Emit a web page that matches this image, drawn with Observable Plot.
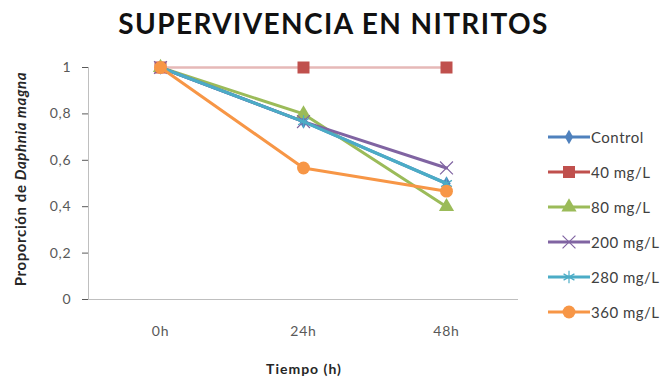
<!DOCTYPE html>
<html><head><meta charset="utf-8">
<script src="https://cdn.jsdelivr.net/npm/d3@7"></script>
<script src="https://cdn.jsdelivr.net/npm/@observablehq/plot@0.6"></script>
<style>
body{margin:0;background:#fff;font-family:Lato,"Open Sans",sans-serif;}
#wrap{position:relative;width:667px;height:381px;overflow:hidden;}
#title{height:44px;line-height:46px;text-align:center;font-weight:bold;font-size:28px;color:#111;letter-spacing:1.4px;}
#ylab{position:absolute;left:20px;top:179px;transform:translate(-50%,-50%) rotate(-90deg);white-space:nowrap;font-size:15px;letter-spacing:0.6px;font-weight:bold;color:#262626;}
#xlab{position:absolute;left:304px;top:368px;transform:translate(-50%,-50%);font-size:14px;letter-spacing:1px;font-weight:bold;color:#262626;}
#legend{position:absolute;left:548px;top:127px;}
.row{height:35px;display:flex;align-items:flex-start;}
.row span{font-size:15px;letter-spacing:0.5px;color:#404040;line-height:20px;margin-left:1px;}
</style></head>
<body><div id="wrap"><div id="title">SUPERVIVENCIA EN NITRITOS</div><div id="chart"></div>
<div id="ylab">Proporción de <i>Daphnia magna</i></div>
<div id="xlab">Tiempo (h)</div>
<div id="legend"></div></div>
<script>
const times = ["0h", "24h", "48h"];
const seriesNames = ["Control", "40 mg/L", "80 mg/L", "200 mg/L", "280 mg/L", "360 mg/L"];
const control = [1, 0.767, 0.5];
const mg40 = [1, 1, 1];
const mg80 = [1, 0.8, 0.4];
const mg200 = [1, 0.767, 0.567];
const mg280 = [1, 0.767, 0.5];
const mg360 = [1, 0.567, 0.467];
const yTicks = [0, 0.2, 0.4, 0.6, 0.8, 1];

const values = [control, mg40, mg80, mg200, mg280, mg360];
const lineColors = ["#4F81BD", "#E6B9B8", "#9BBB59", "#8064A2", "#4BACC6", "#F79646"];
const markColors = ["#4F81BD", "#C0504D", "#9BBB59", "#8064A2", "#4BACC6", "#F79646"];
const symbols = ["diamond", "square", "triangle", "times", "asterisk", "circle"];
const filled = [true, true, true, false, false, true];
const sizes = [60, 144, 100, 110, 110, 130];

const data = [];
seriesNames.forEach((s, i) => times.forEach((t, j) => data.push({series: s, idx: i, time: t, value: values[i][j]})));

const marks = [
  Plot.frame({anchor: "left", stroke: "#bfbfbf"}),
  Plot.ruleY([0], {stroke: "#bfbfbf"}),
  Plot.axisY({ticks: yTicks, tickSize: 6, tickPadding: 11, tickFormat: d => String(d).replace(".", ","), fontSize: 14, color: "#595959", label: null}),
  Plot.axisX({tickSize: 0, tickPadding: 27, fontSize: 14, color: "#595959", label: null})
];
seriesNames.forEach((s, i) => {
  const d = data.filter(r => r.idx === i);
  marks.push(Plot.line(d, {x: "time", y: "value", stroke: lineColors[i], strokeWidth: i === 1 ? 2.5 : 3}));
  marks.push(Plot.dot(d, {x: "time", y: "value", symbol: () => symbols[i], r: Math.sqrt(sizes[i] / Math.PI),
    fill: filled[i] ? markColors[i] : "none", stroke: markColors[i], strokeWidth: filled[i] ? 0 : 1.2}));
});

const chart = Plot.plot({
  width: 667, height: 337,
  marginLeft: 88, marginRight: 149, marginTop: 23, marginBottom: 82,
  x: {type: "point", domain: times, padding: 0.5},
  y: {domain: [0, 1]},
  style: {fontFamily: "Lato, 'Open Sans', sans-serif", background: "#fff", letterSpacing: "0.8px"},
  marks
});
document.getElementById("chart").appendChild(chart);

const leg = d3.select("#legend");
const symMap = {diamond: d3.symbolDiamond, square: d3.symbolSquare, triangle: d3.symbolTriangle, times: d3.symbolTimes, asterisk: d3.symbolAsterisk, circle: d3.symbolCircle};
seriesNames.forEach((s, i) => {
  const row = leg.append("div").attr("class", "row");
  const svg = row.append("svg").attr("width", 42).attr("height", 20);
  svg.append("line").attr("x1", 0).attr("x2", 42).attr("y1", 10).attr("y2", 10).attr("stroke", i === 1 ? markColors[1] : lineColors[i]).attr("stroke-width", 3);
  svg.append("path").attr("transform", "translate(21,10)").attr("d", d3.symbol(symMap[symbols[i]], sizes[i])())
    .attr("fill", filled[i] ? markColors[i] : "none").attr("stroke", markColors[i]).attr("stroke-width", filled[i] ? 0 : 1.2);
  row.append("span").text(s);
});
</script></body></html>
